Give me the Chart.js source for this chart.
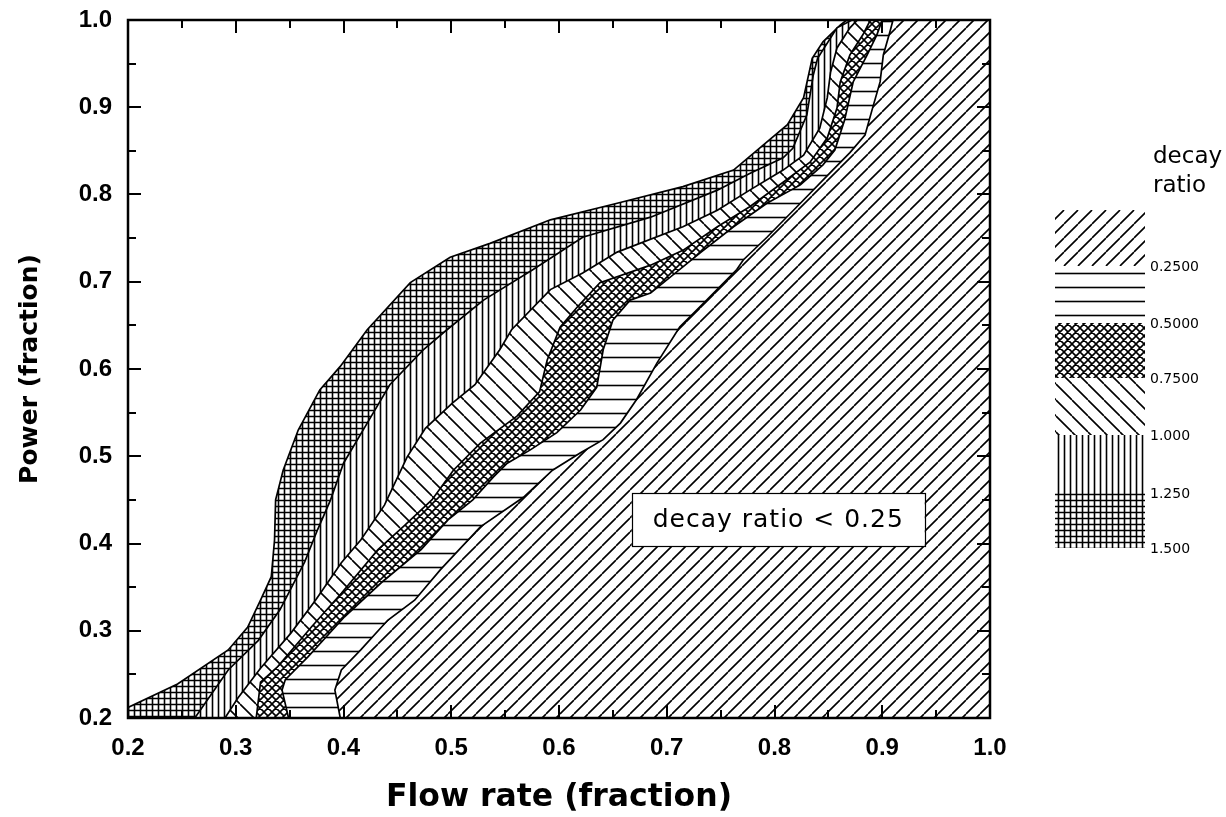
<!DOCTYPE html>
<html>
<head>
<meta charset="utf-8">
<script src="https://cdn.jsdelivr.net/npm/chart.js@4.4.1/dist/chart.umd.min.js"></script>
<style>
  html, body { margin: 0; padding: 0; background: #fff; }
  #wrap { width: 1226px; height: 817px; }
</style>
</head>
<body>
<div id="wrap"><canvas id="chart" width="1226" height="817"></canvas></div>
<script>
// Axis ranges and ticks
const flowRange = [0.2, 1.0];
const powerRange = [0.2, 1.0];
const tickStep = 0.1;
const minorStep = 0.05;

// Decay-ratio contour levels (legend boundaries)
const levels = [0.25, 0.5, 0.75, 1.0, 1.25, 1.5];
const levelLabels = ['0.2500', '0.5000', '0.7500', '1.000', '1.250', '1.500'];

// Contour lines as [flow, power], traced from the lower edge to the upper edge
const contour150 = [[0.200,0.212],[0.246,0.239],[0.293,0.278],[0.311,0.304],[0.323,0.335],[0.333,0.362],[0.336,0.404],[0.337,0.450],[0.344,0.484],[0.358,0.530],[0.378,0.576],[0.397,0.603],[0.422,0.645],[0.462,0.699],[0.499,0.728],[0.536,0.744],[0.592,0.771],[0.654,0.790],[0.715,0.809],[0.762,0.828],[0.787,0.854],[0.812,0.880],[0.827,0.911],[0.835,0.956],[0.845,0.975],[0.861,0.994],[0.867,1.000]];
const contour125 = [[0.262,0.200],[0.293,0.255],[0.321,0.289],[0.341,0.324],[0.364,0.379],[0.376,0.416],[0.388,0.450],[0.400,0.492],[0.422,0.538],[0.443,0.582],[0.474,0.622],[0.496,0.645],[0.530,0.679],[0.576,0.714],[0.622,0.751],[0.685,0.774],[0.747,0.805],[0.777,0.824],[0.808,0.842],[0.817,0.853],[0.830,0.891],[0.836,0.937],[0.840,0.956],[0.858,0.991],[0.872,1.000]];
const contour100 = [[0.290,0.200],[0.302,0.223],[0.323,0.257],[0.351,0.297],[0.374,0.335],[0.398,0.378],[0.416,0.404],[0.438,0.444],[0.459,0.499],[0.476,0.532],[0.501,0.561],[0.522,0.582],[0.545,0.622],[0.556,0.645],[0.592,0.691],[0.622,0.710],[0.654,0.734],[0.715,0.763],[0.747,0.782],[0.777,0.805],[0.808,0.828],[0.827,0.845],[0.842,0.876],[0.849,0.911],[0.852,0.940],[0.858,0.968],[0.870,0.991],[0.877,1.000]];
const contour075 = [[0.319,0.200],[0.323,0.241],[0.339,0.259],[0.370,0.304],[0.398,0.343],[0.432,0.393],[0.457,0.421],[0.482,0.450],[0.502,0.484],[0.527,0.515],[0.561,0.546],[0.582,0.574],[0.589,0.610],[0.601,0.648],[0.617,0.671],[0.638,0.699],[0.685,0.719],[0.715,0.736],[0.747,0.763],[0.777,0.786],[0.808,0.814],[0.833,0.837],[0.849,0.865],[0.858,0.899],[0.861,0.929],[0.870,0.960],[0.882,0.983],[0.889,1.000]];
const contour050 = [[0.349,0.200],[0.343,0.232],[0.346,0.244],[0.367,0.270],[0.401,0.316],[0.435,0.355],[0.472,0.393],[0.497,0.427],[0.520,0.450],[0.539,0.476],[0.552,0.492],[0.573,0.507],[0.598,0.527],[0.620,0.553],[0.635,0.579],[0.641,0.622],[0.650,0.656],[0.666,0.679],[0.685,0.687],[0.731,0.733],[0.762,0.763],[0.793,0.790],[0.824,0.811],[0.845,0.834],[0.856,0.851],[0.865,0.885],[0.873,0.929],[0.886,0.960],[0.895,0.983],[0.900,1.000]];
const contour025 = [[0.397,0.200],[0.392,0.232],[0.398,0.255],[0.416,0.278],[0.441,0.312],[0.466,0.335],[0.490,0.370],[0.527,0.419],[0.567,0.453],[0.594,0.484],[0.620,0.504],[0.641,0.519],[0.657,0.538],[0.672,0.565],[0.691,0.607],[0.712,0.648],[0.737,0.679],[0.765,0.714],[0.771,0.725],[0.793,0.751],[0.824,0.790],[0.854,0.828],[0.870,0.848],[0.884,0.868],[0.891,0.899],[0.898,0.929],[0.901,0.960],[0.907,0.986],[0.910,1.000]];

// Hatch patterns, one per decay-ratio band
function makeHatch(w, h, draw) {
  const c = document.createElement('canvas');
  c.width = w; c.height = h;
  const g = c.getContext('2d');
  g.fillStyle = '#fff';
  g.fillRect(0, 0, w, h);
  g.strokeStyle = '#000';
  g.lineWidth = 1.6;
  g.beginPath();
  draw(g, w, h);
  g.stroke();
  return g.createPattern(c, 'repeat');
}
const hatchUp = makeHatch(14, 14, (g, w, h) => {
  for (let k = -1; k <= 1; k++) { g.moveTo(k * w, h); g.lineTo(k * w + w, 0); }
});
const hatchHoriz = makeHatch(8, 14, (g, w) => { g.moveTo(0, 7.5); g.lineTo(w, 7.5); });
const hatchCross = makeHatch(8, 8, (g, w, h) => {
  for (let k = -1; k <= 1; k++) {
    g.moveTo(k * w, h); g.lineTo(k * w + w, 0);
    g.moveTo(k * w, 0); g.lineTo(k * w + w, h);
  }
});
const hatchDown = makeHatch(16, 16, (g, w, h) => {
  for (let k = -1; k <= 1; k++) { g.moveTo(k * w, 0); g.lineTo(k * w + w, h); }
});
const hatchVert = makeHatch(6, 8, (g, w, h) => { g.moveTo(2.5, 0); g.lineTo(2.5, h); });
const hatchGrid = makeHatch(6, 6, (g, w, h) => {
  g.moveTo(2.5, 0); g.lineTo(2.5, h);
  g.moveTo(0, 2.5); g.lineTo(w, 2.5);
});

// Bands from low to high decay ratio; each band fills the area right of its lower contour
const bands = [
  { contour: contour025, pattern: hatchUp },     // < 0.25
  { contour: contour050, pattern: hatchHoriz },  // 0.25 - 0.50
  { contour: contour075, pattern: hatchCross },  // 0.50 - 0.75
  { contour: contour100, pattern: hatchDown },   // 0.75 - 1.00
  { contour: contour125, pattern: hatchVert },   // 1.00 - 1.25
  { contour: contour150, pattern: hatchGrid }    // 1.25 - 1.50
];

// Close each contour along the right and lower plot edges
function regionRightOf(contour) {
  const pts = contour.map(([x, y]) => ({ x, y }));
  pts.push({ x: flowRange[1], y: powerRange[1] });
  pts.push({ x: flowRange[1], y: powerRange[0] });
  pts.push({ x: contour[0][0], y: powerRange[0] });
  return pts;
}

const datasets = bands.map((b, i) => ({
  label: 'decay ratio ' + levels[i],
  data: regionRightOf(b.contour),
  fill: 'shape',
  backgroundColor: b.pattern,
  borderColor: '#000',
  borderWidth: 1.7,
  pointRadius: 0,
  tension: 0,
  order: i + 1
}));

const white = {
  id: 'white',
  beforeDraw(chart) {
    const ctx = chart.ctx;
    ctx.save();
    ctx.fillStyle = '#fff';
    ctx.fillRect(0, 0, chart.width, chart.height);
    ctx.restore();
  }
};

// Label box inside the lowest band
const bandNote = {
  id: 'bandNote',
  afterDatasetsDraw(chart) {
    const { ctx, scales: { x, y } } = chart;
    const cx = x.getPixelForValue(0.8035), cy = y.getPixelForValue(0.4275);
    const text = 'decay ratio < 0.25';
    ctx.save();
    ctx.font = '25px "DejaVu Sans"';
    ctx.letterSpacing = '1px';
    const w = ctx.measureText(text).width;
    const bw = 293, bh = 53;
    ctx.fillStyle = '#fff';
    ctx.fillRect(cx - bw / 2, cy - bh / 2, bw, bh);
    ctx.strokeStyle = '#000';
    ctx.lineWidth = 1.2;
    ctx.strokeRect(Math.round(cx - bw / 2) + 0.5, Math.round(cy - bh / 2) + 0.5, bw, bh);
    ctx.fillStyle = '#000';
    ctx.textBaseline = 'middle';
    ctx.textAlign = 'left';
    ctx.fillText(text, cx - w / 2, cy + 1);
    ctx.restore();
  }
};

// Frame with inward ticks on all four sides, plus the decay-ratio key
const frame = {
  id: 'frame',
  afterDraw(chart) {
    const { ctx, chartArea: a, scales: { x, y } } = chart;
    ctx.save();
    ctx.strokeStyle = '#000';
    ctx.lineWidth = 2;
    ctx.beginPath();
    const nx = Math.round((flowRange[1] - flowRange[0]) / minorStep);
    for (let i = 0; i <= nx; i++) {
      const px = Math.round(x.getPixelForValue(flowRange[0] + i * minorStep));
      const len = i % 2 === 0 ? 13 : 8;
      ctx.moveTo(px, a.bottom); ctx.lineTo(px, a.bottom - len);
      ctx.moveTo(px, a.top); ctx.lineTo(px, a.top + len);
    }
    const ny = Math.round((powerRange[1] - powerRange[0]) / minorStep);
    for (let i = 0; i <= ny; i++) {
      const py = Math.round(y.getPixelForValue(powerRange[0] + i * minorStep));
      const len = i % 2 === 0 ? 13 : 8;
      ctx.moveTo(a.left, py); ctx.lineTo(a.left + len, py);
      ctx.moveTo(a.right, py); ctx.lineTo(a.right - len, py);
    }
    ctx.stroke();
    ctx.lineWidth = 2.5;
    ctx.strokeRect(a.left, a.top, a.right - a.left, a.bottom - a.top);

    const kx = 1055, kw = 90;
    const edges = [210, 266, 323, 378, 435, 493, 548];
    const pats = [hatchUp, hatchHoriz, hatchCross, hatchDown, hatchVert, hatchGrid];
    for (let i = 0; i < pats.length; i++) {
      ctx.fillStyle = pats[i];
      ctx.fillRect(kx, edges[i], kw, edges[i + 1] - edges[i]);
    }
    ctx.fillStyle = '#000';
    ctx.font = '14px "DejaVu Sans"';
    ctx.textAlign = 'left';
    ctx.textBaseline = 'middle';
    levelLabels.forEach((t, i) => ctx.fillText(t, 1150, edges[i + 1] + 1));
    ctx.font = '23px "DejaVu Sans"';
    ctx.textBaseline = 'alphabetic';
    ctx.fillText('decay', 1153, 163);
    ctx.fillText('ratio', 1153, 192);
    ctx.restore();
  }
};

const tickFont = { family: '"Liberation Sans", Arial, sans-serif', size: 24, weight: 'bold' };

new Chart(document.getElementById('chart'), {
  type: 'line',
  data: { datasets },
  options: {
    responsive: false,
    animation: false,
    events: [],
    layout: { padding: { top: 20, right: 236, left: 0, bottom: 0 } },
    plugins: { legend: { display: false }, tooltip: { enabled: false } },
    scales: {
      x: {
        type: 'linear',
        min: flowRange[0], max: flowRange[1],
        grid: { display: false, drawTicks: false },
        border: { display: false },
        ticks: {
          stepSize: tickStep,
          padding: 16,
          color: '#000',
          font: tickFont,
          callback: v => Number(v).toFixed(1)
        },
        title: {
          display: true,
          text: 'Flow rate (fraction)',
          color: '#000',
          font: { family: '"DejaVu Sans", sans-serif', size: 31.5, weight: 'bold' },
          padding: { top: 0, bottom: 0 }
        },
        afterFit: s => { s.height = 99; s.paddingLeft = 0; s.paddingRight = 0; }
      },
      y: {
        type: 'linear',
        min: powerRange[0], max: powerRange[1],
        grid: { display: false, drawTicks: false },
        border: { display: false },
        ticks: {
          stepSize: tickStep,
          padding: 16,
          color: '#000',
          font: tickFont,
          callback: v => Number(v).toFixed(1)
        },
        title: {
          display: true,
          text: 'Power (fraction)',
          color: '#000',
          font: { family: '"DejaVu Sans", sans-serif', size: 25, weight: 'bold' },
          padding: { top: 15, bottom: 0 }
        },
        afterFit: s => { s.width = 128; s.paddingTop = 0; s.paddingBottom = 0; }
      }
    }
  },
  plugins: [white, bandNote, frame]
});
</script>
</body>
</html>
